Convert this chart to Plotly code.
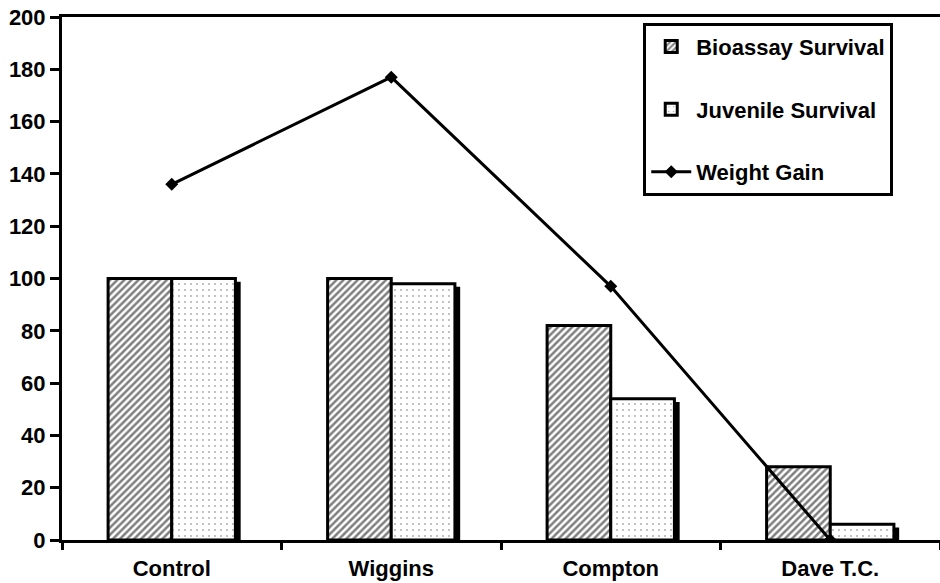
import plotly.graph_objects as go

categories = ["Control", "Wiggins", "Compton", "Dave T.C."]
bioassay_survival = [100, 100, 82, 28]
juvenile_survival = [100, 98, 54, 6]
weight_gain = [136, 177, 97, 0]

FONT = "Arial, 'Liberation Sans', sans-serif"
BW = 0.29

fig = go.Figure()

# shadow behind juvenile bars
fig.add_trace(go.Bar(
    x=categories, y=[v - 1.2 for v in juvenile_survival], width=BW, offset=0.024,
    marker=dict(color="black", line=dict(width=0)), showlegend=False, hoverinfo="skip",
))
fig.add_trace(go.Bar(
    x=categories, y=bioassay_survival, width=BW, offset=-BW, name="Bioassay Survival",
    legendgroup="a",
    marker=dict(color="white", line=dict(color="black", width=3),
                pattern=dict(shape="/", fgcolor="black", bgcolor="white", size=5, solidity=0.5)),
))
fig.add_trace(go.Bar(
    x=categories, y=juvenile_survival, width=BW, offset=0, name="Juvenile Survival",
    legendgroup="b",
    marker=dict(color="white", line=dict(color="black", width=3),
                pattern=dict(shape=".", fgcolor="#555555", bgcolor="white", size=6, solidity=0.08)),
))
fig.add_trace(go.Scatter(
    x=categories, y=weight_gain, mode="lines+markers", name="Weight Gain",
    legendgroup="c",
    line=dict(color="black", width=3),
    marker=dict(symbol="diamond", size=10, color="black"),
))

fig.update_layout(
    width=940, height=583,
    margin=dict(l=62, r=0, t=17, b=43),
    paper_bgcolor="white", plot_bgcolor="white",
    barmode="overlay",
    font=dict(family=FONT, size=22, color="black", weight="bold"),
    showlegend=True,
    legend=dict(
        x=0.662, y=0.989, xanchor="left", yanchor="top",
        bordercolor="black", borderwidth=3, bgcolor="white",
        font=dict(family=FONT, size=22, color="black", weight="bold"),
        tracegroupgap=31, traceorder="grouped", itemwidth=40,
    ),
    xaxis=dict(
        type="category", range=[-0.5, 3.5], automargin=False,
        showline=True, linecolor="black", linewidth=3, mirror=True,
        ticks="outside", tickson="boundaries", ticklen=7, tickwidth=3, tickcolor="black",
        showgrid=False, zeroline=False, ticklabelstandoff=7,
        tickfont=dict(family=FONT, size=22, color="black", weight="bold"),
    ),
    yaxis=dict(
        range=[0, 200], tickvals=list(range(0, 201, 20)), automargin=False,
        showline=True, linecolor="black", linewidth=3,
        ticks="outside", ticklen=9, tickwidth=3, tickcolor="black",
        showgrid=False, zeroline=False,
        tickfont=dict(family=FONT, size=22, color="black", weight="bold"),
    ),
)

fig.write_html("out.html", config={"displayModeBar": False},
               post_script="document.body.style.margin='0';document.body.style.padding='0';")
